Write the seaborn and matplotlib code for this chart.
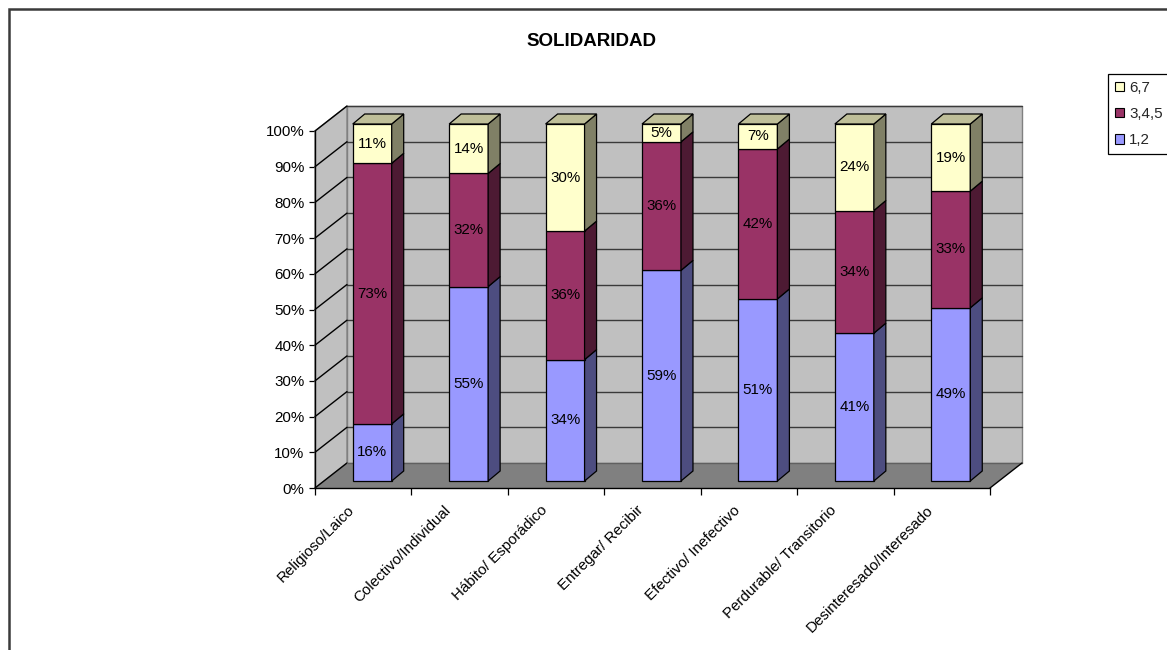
import numpy as np
import matplotlib
matplotlib.use("Agg")
import matplotlib.pyplot as plt
import matplotlib.transforms as mtransforms
from matplotlib.patches import Polygon, Rectangle, Patch
from matplotlib.lines import Line2D
import seaborn as sns

# ---- data -------------------------------------------------------------
categorias = ["Religioso/Laico", "Colectivo/Individual", "Hábito/ Esporádico",
              "Entregar/ Recibir", "Efectivo/ Inefectivo",
              "Perdurable/ Transitorio", "Desinteresado/Interesado"]
grupo_12 = [16, 55, 34, 59, 51, 41, 49]
grupo_345 = [73, 32, 36, 36, 42, 34, 33]
grupo_67 = [11, 14, 30, 5, 7, 24, 19]
series_nombres = ["1,2", "3,4,5", "6,7"]
y_ticks = [0, 10, 20, 30, 40, 50, 60, 70, 80, 90, 100]

# ---- style --------------------------------------------------------------
sns.set_theme(style="white")
plt.rcParams["font.family"] = ["Liberation Sans", "DejaVu Sans"]
FS = 10.9

colores = {"1,2": "#9999FF", "3,4,5": "#993366", "6,7": "#FFFFCC"}
lados = {"1,2": "#4D4D80", "3,4,5": "#4D1A33", "6,7": "#808066"}
techos = {"1,2": "#7373BF", "3,4,5": "#73264D", "6,7": "#BFBF99"}

DPI = 100
W, H = 1167, 650
fig = plt.figure(figsize=(W / DPI, H / DPI), dpi=DPI)
fig.patch.set_facecolor("white")

# front plane of the 3-D box
ax = fig.add_axes([315 / W, 162 / H, 675 / W, 357 / H])
ax.patch.set_visible(False)

# depth offsets in pixels (dx, dy) : full box depth, bar front, bar back
FULL = (32, 25)
BAR_F = (9, 7)
BAR_B = (21, 17)

# ---- stacked bars (100 % stacked) --------------------------------------
series = {"1,2": grupo_12, "3,4,5": grupo_345, "6,7": grupo_67}
totales = np.array(grupo_12) + np.array(grupo_345) + np.array(grupo_67)
base = np.zeros(len(categorias))
capas = []
for nombre in series_nombres:
    vals = np.array(series[nombre], dtype=float)
    alto = vals / totales * 100
    n0 = len(ax.patches)
    sns.barplot(x=categorias, y=alto, ax=ax, color=colores[nombre],
                saturation=1, width=0.404, bottom=base, errorbar=None,
                edgecolor="black", linewidth=0.9, zorder=3)
    capas.append((nombre, ax.patches[n0:], series[nombre]))
    base = base + alto

ax.set_xlim(-0.5, len(categorias) - 0.5)
ax.set_ylim(0, 100)

off_front = mtransforms.ScaledTranslation(BAR_F[0] / DPI, BAR_F[1] / DPI,
                                          fig.dpi_scale_trans)
ident = mtransforms.IdentityTransform()


def px(x, y, d=(0, 0)):
    X, Y = ax.transData.transform((x, y))
    return (X + d[0], Y + d[1])


# ---- walls, floor and gridlines ----------------------------------------
x0, x1 = -0.5, len(categorias) - 0.5
back = Polygon([px(x0, 0, FULL), px(x1, 0, FULL), px(x1, 100, FULL), px(x0, 100, FULL)],
               closed=True, transform=ident, facecolor="#C0C0C0",
               edgecolor="#808080", lw=1, zorder=0.5, clip_on=False)
side = Polygon([px(x0, 0), px(x0, 0, FULL), px(x0, 100, FULL), px(x0, 100)],
               closed=True, transform=ident, facecolor="#C0C0C0",
               edgecolor="#808080", lw=1, zorder=0.6, clip_on=False)
floor = Polygon([px(x0, 0), px(x1, 0), px(x1, 0, FULL), px(x0, 0, FULL)],
                closed=True, transform=ident, facecolor="#808080",
                edgecolor="none", zorder=0.7, clip_on=False)
for p in (back, side, floor):
    ax.add_patch(p)

for yv in y_ticks:
    if yv > 0:
        a, b = px(x0, yv, FULL), px(x1, yv, FULL)
        ax.add_line(Line2D([a[0], b[0]], [a[1], b[1]], transform=ident,
                           color="#3A3A3A", lw=1, zorder=1, clip_on=False))
    a, b = px(x0, yv), px(x0, yv, FULL)
    ax.add_line(Line2D([a[0], b[0]], [a[1], b[1]], transform=ident,
                       color="black", lw=1, zorder=1, clip_on=False))

# floor edges
a, b = px(x0, 0, FULL), px(x1, 0, FULL)
ax.add_line(Line2D([a[0], b[0]], [a[1], b[1]], transform=ident,
                   color="#606060", lw=1, zorder=1.1, clip_on=False))
a, b = px(x1, 0), px(x1, 0, FULL)
ax.add_line(Line2D([a[0], b[0]], [a[1], b[1]], transform=ident,
                   color="black", lw=1, zorder=1.1, clip_on=False))

# ---- 3-D faces of the bars ---------------------------------------------
for k, (nombre, parches, etiquetas) in enumerate(capas):
    for p, val in zip(parches, etiquetas):
        bx, by = p.get_x(), p.get_y()
        bw, bh = p.get_width(), p.get_height()
        p.set_transform(ax.transData + off_front)
        p.set_clip_on(False)
        p.set_zorder(3 + k)
        cara = Polygon([px(bx + bw, by, BAR_F), px(bx + bw, by, BAR_B),
                        px(bx + bw, by + bh, BAR_B), px(bx + bw, by + bh, BAR_F)],
                       closed=True, transform=ident, facecolor=lados[nombre],
                       edgecolor="black", lw=0.9, zorder=3 + k, clip_on=False)
        ax.add_patch(cara)
        if k == len(capas) - 1:
            tapa = Polygon([px(bx, by + bh, BAR_F), px(bx + bw, by + bh, BAR_F),
                            px(bx + bw, by + bh, BAR_B), px(bx, by + bh, BAR_B)],
                           closed=True, transform=ident, facecolor=techos[nombre],
                           edgecolor="black", lw=0.9, zorder=3 + k, clip_on=False)
            ax.add_patch(tapa)
        ax.text(bx + bw / 2, by + bh / 2, f"{val}%", transform=ax.transData + off_front,
                ha="center", va="center", fontsize=FS, color="black", zorder=8)

# ---- axes --------------------------------------------------------------
for s in ("top", "right"):
    ax.spines[s].set_visible(False)
for s in ("left", "bottom"):
    ax.spines[s].set_visible(True)
    ax.spines[s].set_color("black")
    ax.spines[s].set_linewidth(1)
    ax.spines[s].set_zorder(2)

ax.set_yticks(y_ticks)
ax.set_yticklabels([f"{v}%" for v in y_ticks], fontsize=FS, color="black")
ax.tick_params(axis="y", which="major", left=True, length=4.5, width=0.9,
               direction="out", pad=3, color="black")

ax.set_xticks(np.arange(-0.5, len(categorias)), labels=[""] * (len(categorias) + 1))
ax.set_xticks(np.arange(len(categorias)), labels=categorias, minor=True)
ax.tick_params(axis="x", which="major", bottom=True, length=5, width=0.9,
               direction="out", color="black")
ax.tick_params(axis="x", which="minor", bottom=True, length=0, pad=11)
shift = mtransforms.ScaledTranslation(-6 / DPI, 0, fig.dpi_scale_trans)
for lab in ax.get_xticklabels(minor=True):
    lab.set_rotation(45)
    lab.set_ha("right")
    lab.set_va("top")
    lab.set_fontsize(FS)
    lab.set_color("black")
    lab.set_transform(lab.get_transform() + shift)
ax.set_xlabel("")
ax.set_ylabel("")
ax.grid(False)

# ---- title, legend, outer frame ---------------------------------------
fig.text(591 / W, 1 - 41 / H, "SOLIDARIDAD", ha="center", va="center",
         fontsize=13.5, fontweight="bold", color="black")

handles = [Patch(facecolor=colores[n], edgecolor="black", lw=0.8)
           for n in reversed(series_nombres)]
leg = fig.legend(handles, list(reversed(series_nombres)), loc="upper left",
                 bbox_to_anchor=(1108 / W, 1 - 74 / H), borderaxespad=0,
                 fontsize=FS, handlelength=0.6, handleheight=0.6,
                 handletextpad=0.35, labelspacing=0.8, borderpad=0.45,
                 fancybox=False, framealpha=1, edgecolor="black")
leg.get_frame().set_linewidth(0.9)

fig.add_artist(Rectangle((8.5 / W, -0.1), 1.2, 0.1 + (H - 8.5) / H,
                         transform=fig.transFigure, fill=False,
                         edgecolor="#3A3A3A", lw=1.8, clip_on=False))

fig.savefig("out.png", dpi=DPI)
